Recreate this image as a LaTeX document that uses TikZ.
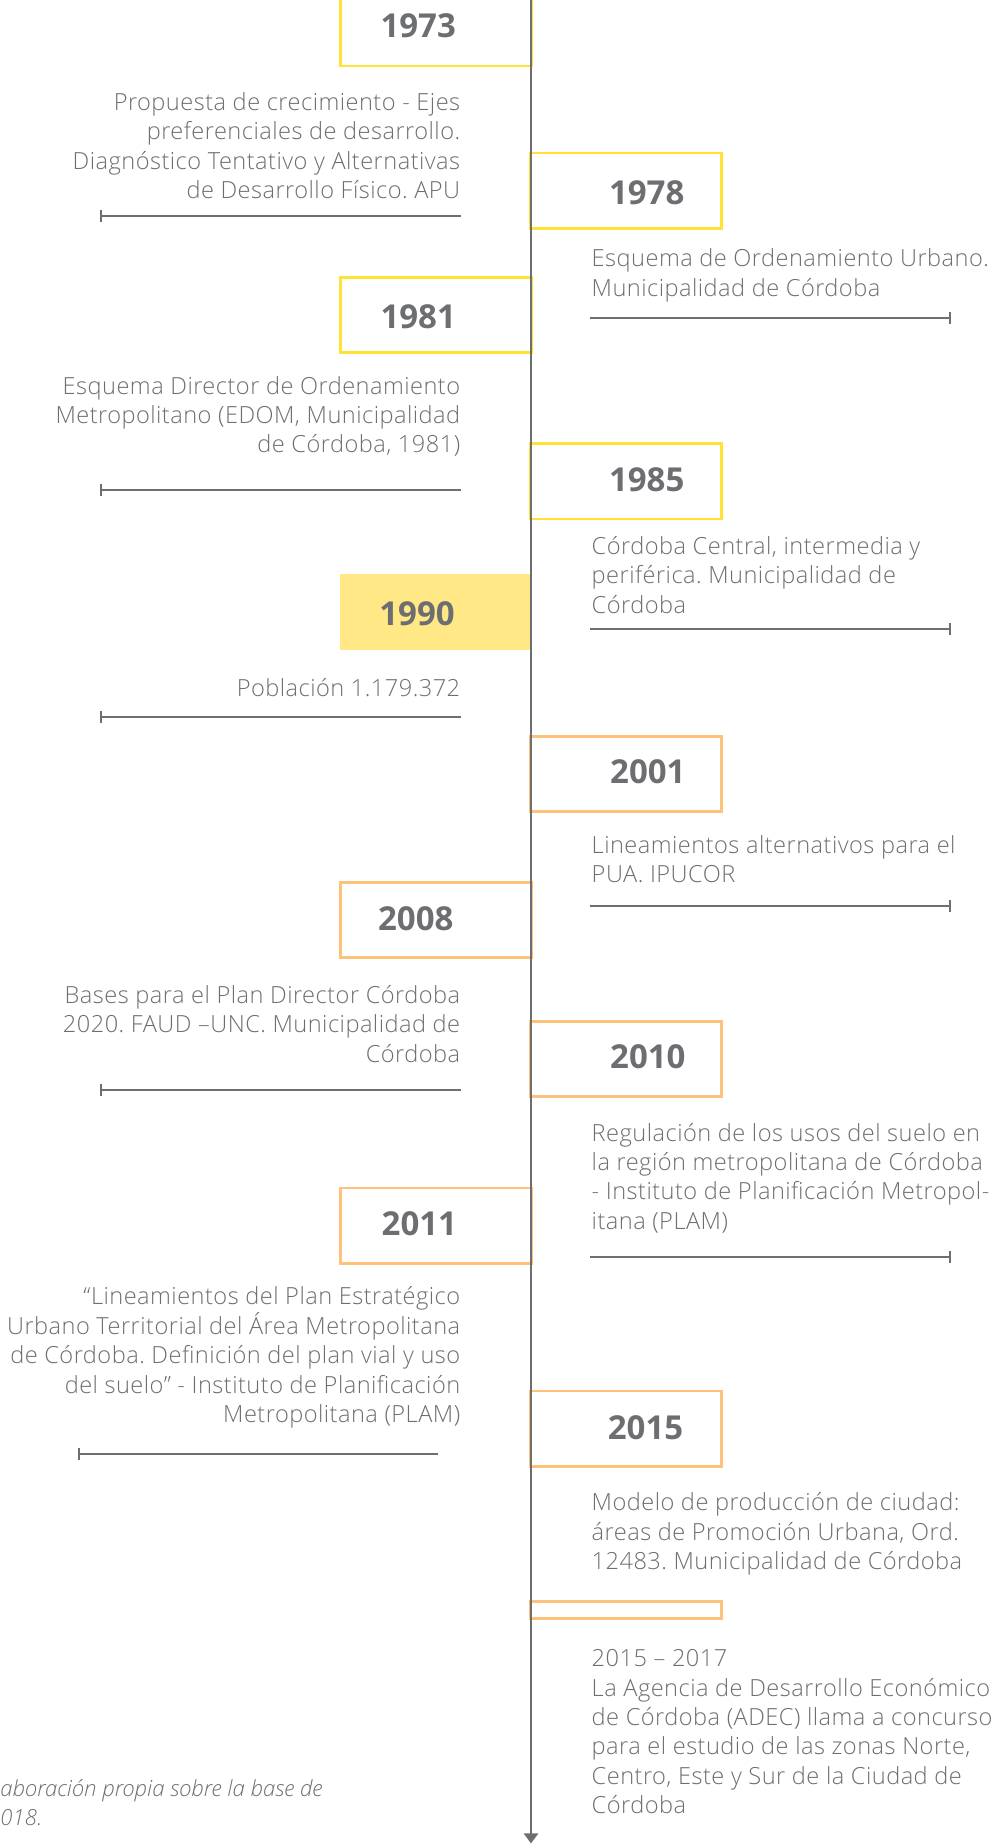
\documentclass[tikz,border=0pt]{standalone}
\usepackage{fontspec}
\setmainfont{Open Sans}[UprightFont=* Light, ItalicFont=* Light Italic, BoldFont=* Bold]
\newfontfamily\descfont{Open Sans}[UprightFont=* Light, ItalicFont=* Light Italic, BoldFont=* Bold, LetterSpace=2]
\usepackage{tikz}
\usepackage{xcolor}
\usetikzlibrary{arrows.meta, positioning}
\definecolor{TL_Gray}{HTML}{6D6E71}
\definecolor{TL_Yellow}{HTML}{FFE234}
\definecolor{TL_Sand}{HTML}{FFE885}
\definecolor{TL_Orange}{HTML}{FFC27A}
\frenchspacing

\tikzset{
    yearbox/.style={line width=1.3pt, minimum width=95.4pt, minimum height=37.7pt, inner sep=0pt},
    yeartext/.style={font=\fontsize{16.5}{18}\selectfont\bfseries, text=TL_Gray, inner sep=0pt},
    desc/.style={font=\descfont\fontsize{11.8}{14.73}\selectfont, text=TL_Gray, inner sep=0pt},
    descleft/.style={desc, align=right, anchor=north east},
    descright/.style={desc, align=left, anchor=north west},
    source/.style={font=\fontsize{11.1}{14.73}\selectfont\itshape, text=TL_Gray, inner sep=0pt, anchor=base west},
    rule/.style={TL_Gray, line width=1pt},
}

\begin{document}
\begin{tikzpicture}[x=0.5892pt, y=-0.5892pt]
    \useasboundingbox (0,0) rectangle (852,1568);

    % Year boxes: left ones span 289..451, right ones 451..612
    \foreach \yr/\cx/\cy/\tx/\ty/\col in {
        1973/370/24/355/22/TL_Yellow,
        1978/531.5/162/549/164/TL_Yellow,
        1981/370/267.5/355/269/TL_Yellow,
        1985/531.5/408.5/549/407/TL_Yellow,
        2001/531.5/657/550/655/TL_Orange,
        2008/370/781/353/780/TL_Orange,
        2010/531.5/899/550/897/TL_Orange,
        2011/370/1040.5/356/1039/TL_Orange,
        2015/531.5/1213/548/1212/TL_Orange} {
        \node[yearbox, draw=\col] (b\yr) at (\cx, \cy) {};
        \node[yeartext] (t\yr) at (\tx, \ty) {\yr};
    }

    % 1990 is filled instead of outlined
    \node[yearbox, fill=TL_Sand] (b1990) at (370, 519.5) {};
    \node[yeartext] (t1990) at (354, 521) {1990};

    % Empty box above 2015 - 2017
    \node[yearbox, draw=TL_Orange, minimum height=8.5pt] (b2017) at (531.5, 1367) {};

    % Descriptions, left column
    \node[descleft] (d1973) at (391, 78) {Propuesta de crecimiento - Ejes\\preferenciales de desarrollo.\\Diagnóstico Tentativo y Alternativas\\de Desarrollo Físico. APU};
    \node[descleft] (d1981) at (391, 319) {Esquema Director de Ordenamiento\\Metropolitano (EDOM, Municipalidad\\de Córdoba, 1981)};
    \node[descleft] (d1990) at (391, 576) {Población 1.179.372};
    \node[descleft] (d2008) at (391, 836) {Bases para el Plan Director Córdoba\\2020. FAUD –UNC. Municipalidad de\\Córdoba};
    \node[descleft] (d2011) at (391, 1092) {“Lineamientos del Plan Estratégico\\Urbano Territorial del Área Metropolitana\\de Córdoba. Definición del plan vial y uso\\del suelo” - Instituto de Planificación\\Metropolitana (PLAM)};

    % Descriptions, right column
    \node[descright] (d1978) at (502, 211) {Esquema de Ordenamiento Urbano.\\Municipalidad de Córdoba};
    \node[descright] (d1985) at (502, 455) {Córdoba Central, intermedia y\\periférica. Municipalidad de\\Córdoba};
    \node[descright] (d2001) at (502, 709) {Lineamientos alternativos para el\\PUA. IPUCOR};
    \node[descright] (d2010) at (502, 953) {Regulación de los usos del suelo en\\la región metropolitana de Córdoba\\- Instituto de Planificación Metropol-\\itana (PLAM)};
    \node[descright] (d2015) at (502, 1267) {Modelo de producción de ciudad:\\áreas de Promoción Urbana, Ord.\\12483. Municipalidad de Córdoba};
    \node[descright] (d2017) at (502, 1400) {2015 – 2017\\La Agencia de Desarrollo Económico\\de Córdoba (ADEC) llama a concurso\\para el estudio de las zonas Norte,\\Centro, Este y Sur de la Ciudad de\\Córdoba};

    % Separators
    \foreach \y in {183, 416, 609, 925}
        \draw[rule, {Bar[width=6pt]}-] (85, \y) -- (391, \y);
    \draw[rule, {Bar[width=6pt]}-] (66, 1234) -- (372, 1234);
    \foreach \y in {270, 534, 769, 1067}
        \draw[rule, -{Bar[width=6pt]}] (501, \y) -- (807, \y);

    % Source note (cut at the left edge)
    \node[source] (src1) at (0, 1525) {aboración propia sobre la base de};
    \node[source] (src2) at (0, 1550) {018.};

    % Time axis
    \coordinate (axtop) at (450.8, 0);
    \coordinate (axend) at (450.8, 1565);
    \draw[TL_Gray, line width=1.25pt, -{Triangle[width=7pt, length=5pt]}] (axtop) -- (axend);
\end{tikzpicture}
\end{document}
